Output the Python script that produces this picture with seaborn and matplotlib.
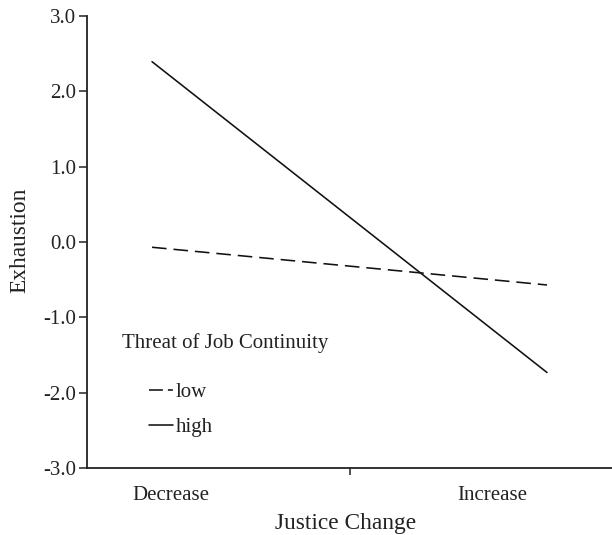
import matplotlib
matplotlib.use("Agg")
import matplotlib.pyplot as plt
from matplotlib.lines import Line2D
import seaborn as sns
import pandas as pd

# Simple slopes: exhaustion by justice change for low / high threat of job continuity
justice_levels = ["Decrease", "Increase"]
low_threat = [-0.07, -0.57]
high_threat = [2.39, -1.73]
y_ticks = [-3.0, -2.0, -1.0, 0.0, 1.0, 2.0, 3.0]

df = pd.DataFrame({
    "Justice Change": justice_levels * 2,
    "Exhaustion": low_threat + high_threat,
    "Threat": ["low"] * 2 + ["high"] * 2,
})

sns.set_style("white")
plt.rcParams["font.family"] = ["Liberation Serif", "DejaVu Serif"]

INK = "#222222"
TICK_FS = 15
LABEL_FS = 16.8

fig = plt.figure(figsize=(6.12, 5.35), dpi=100)
ax = fig.add_axes([0.1422, 0.1247, 0.8578, 0.846])

lw = 1.15
sns.lineplot(data=df, x="Justice Change", y="Exhaustion", hue="Threat",
             style="Threat", palette={"low": "#111111", "high": "#111111"},
             dashes={"low": (10.5 / lw, 5.0 / lw), "high": ""}, linewidth=lw,
             legend=False, ax=ax)

ax.set_xlim(-0.1646, 1.1646)
ax.set_ylim(-3.0, 3.0)

ax.set_yticks(y_ticks)
ax.set_yticklabels([f"{v:.1f}" for v in y_ticks], fontsize=TICK_FS, color=INK)
ax.tick_params(axis="y", direction="out", length=6, width=1.1, pad=2,
               left=True, color=INK)

# one divider tick between the two categories, labels placed under each level
ax.set_xticks([0.5])
ax.set_xticklabels([""])
ax.tick_params(axis="x", which="major", direction="out", length=5, width=1.1,
               bottom=True, color=INK)
ax.set_xticks([0.047, 0.861], minor=True)
ax.set_xticklabels(justice_levels, minor=True, fontsize=TICK_FS, color=INK)
ax.tick_params(axis="x", which="minor", length=0, pad=13)

for side in ["top", "right"]:
    ax.spines[side].set_visible(False)
for side in ["left", "bottom"]:
    ax.spines[side].set_linewidth(1.3)
    ax.spines[side].set_color(INK)

ax.set_ylabel("Exhaustion", fontsize=LABEL_FS, color=INK, va="center")
ax.yaxis.set_label_coords(-0.128, 0.503)
ax.set_xlabel("Justice Change", fontsize=LABEL_FS, color=INK, va="baseline")
ax.xaxis.set_label_coords(0.4933, -0.134)

# legend: title line, then the two line keys
ax.text(0.0667, 0.2658, "Threat of Job Continuity", transform=ax.transAxes,
        fontsize=TICK_FS, color=INK, ha="left", va="baseline")
handles = [
    Line2D([], [], color="#111111", lw=lw,
           linestyle=(0, (10.0 / lw, 3.6 / lw, 3.6 / lw, 3.6 / lw))),
    Line2D([], [], color="#111111", lw=lw, linestyle="-"),
]
leg = ax.legend(handles, ["low", "high"], loc="upper left",
                bbox_to_anchor=(0.118, 0.190), frameon=False,
                fontsize=TICK_FS, handlelength=1.15, handletextpad=0.15,
                labelspacing=0.74, borderpad=0, borderaxespad=0)
for t in leg.get_texts():
    t.set_color(INK)

fig.savefig("out.png", dpi=100)
